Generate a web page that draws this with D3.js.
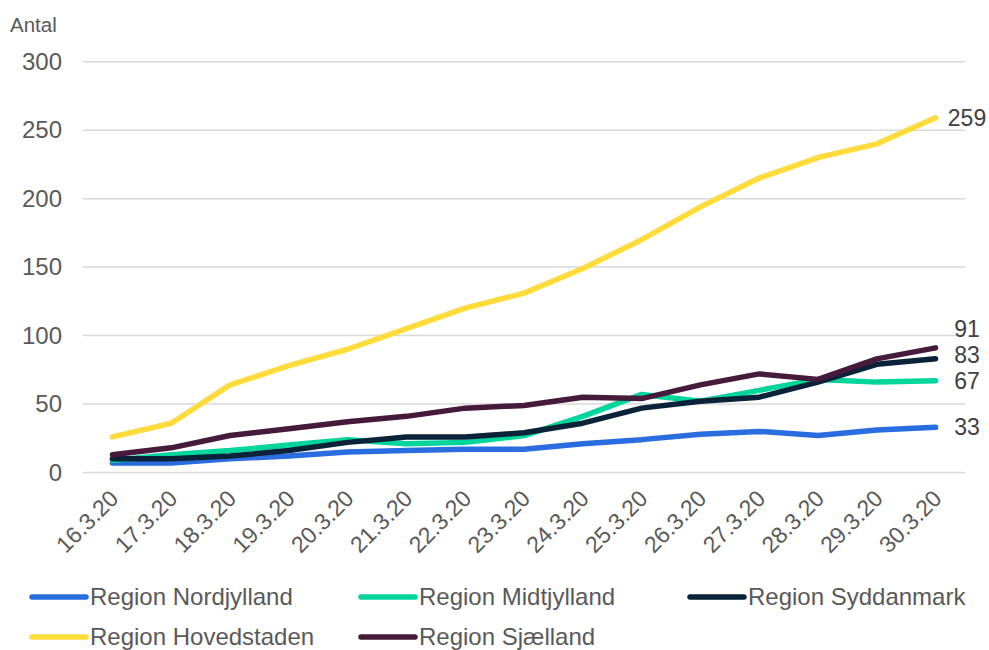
<!DOCTYPE html>
<html><head><meta charset="utf-8">
<script src="https://cdn.jsdelivr.net/npm/d3@7"></script>
<style>body{margin:0;background:#fff}svg{display:block;font-family:"Liberation Sans",Arial,sans-serif}</style>
</head><body><svg id="c" width="989" height="650"></svg>
<script>
const dates = ["16.3.20","17.3.20","18.3.20","19.3.20","20.3.20","21.3.20","22.3.20","23.3.20","24.3.20","25.3.20","26.3.20","27.3.20","28.3.20","29.3.20","30.3.20"];
const yTicks = [0,50,100,150,200,250,300];
const seriesNames = ["Region Nordjylland","Region Midtjylland","Region Syddanmark","Region Hovedstaden","Region Sjælland"];
const nordjylland = [7,7,10,12,15,16,17,17,21,24,28,30,27,31,33];
const midtjylland = [9,13,16,20,24,21,22,27,41,57,52,60,68,66,67];
const syddanmark  = [10,10,12,16,22,26,26,29,36,47,52,55,66,79,83];
const hovedstaden = [26,36,64,78,90,105,120,131,149,170,194,215,230,240,259];
const sjaelland   = [13,18,27,32,37,41,47,49,55,54,64,72,68,83,91];
const seriesValues = [nordjylland, midtjylland, syddanmark, hovedstaden, sjaelland];
const colors = ["#2a6ddf","#00d69c","#0b2338","#ffdb3b","#451a3b"];

const svg = d3.select("#c");
const x = d3.scalePoint().domain(dates).range([83,965]).padding(0.5);
const y = d3.scaleLinear().domain([0,300]).range([472.5,61.7]);
const txt = "#595959";
const ff = "Liberation Sans, Arial, sans-serif";

// gridlines
svg.append("g").selectAll("line").data(yTicks).join("line")
  .attr("x1",83).attr("x2",965).attr("y1",d=>y(d)).attr("y2",d=>y(d))
  .attr("stroke","#d9d9d9").attr("stroke-width",1.5);

// y axis labels
const ya = svg.append("g").attr("transform","translate(62,0)")
  .call(d3.axisLeft(y).tickValues(yTicks).tickSize(0).tickPadding(0));
ya.select(".domain").remove();
ya.selectAll("text").attr("fill",txt).style("font-size","24px").style("font-family",ff);

svg.append("text").attr("x",10).attr("y",32).attr("fill",txt).style("font-size","20.5px").text("Antal");

// x axis labels
const xa = svg.append("g").attr("transform","translate(0,478)")
  .call(d3.axisBottom(x).tickSize(0).tickPadding(0));
xa.select(".domain").remove();
xa.selectAll("text").attr("fill",txt).style("font-size","23px").style("font-family",ff)
  .attr("text-anchor","end").attr("dy",null).attr("y",0)
  .attr("transform","translate(7,22) rotate(-45)");

// lines
const line = d3.line().x((d,i)=>x(dates[i])).y(d=>y(d));
svg.append("g").selectAll("path").data(seriesValues).join("path")
  .attr("d",line).attr("fill","none").attr("stroke",(d,i)=>colors[i])
  .attr("stroke-width",5.5).attr("stroke-linecap","round").attr("stroke-linejoin","round");

// end labels with simple collision avoidance
const ends = seriesValues.map((s,i)=>({v:s[s.length-1], yy:y(s[s.length-1])}));
ends.sort((a,b)=>b.yy-a.yy);
for(let k=1;k<ends.length;k++){ if(ends[k-1].yy-ends[k].yy<26) ends[k].yy=ends[k-1].yy-26; }
svg.append("g").selectAll("text").data(ends).join("text")
  .attr("x",967).attr("y",d=>d.yy).attr("dy","0.35em").attr("text-anchor","middle")
  .attr("fill","#404040").style("font-size","23px").text(d=>d.v);

// legend
const legPos = [[30,597],[359,597],[688,597],[30,637],[359,637]];
const lg = svg.append("g").selectAll("g").data(seriesNames).join("g")
  .attr("transform",(d,i)=>`translate(${legPos[i][0]},${legPos[i][1]})`);
lg.append("line").attr("x1",2).attr("x2",56).attr("stroke",(d,i)=>colors[i])
  .attr("stroke-width",5.5).attr("stroke-linecap","round");
lg.append("text").attr("x",60).attr("dy","0.35em").attr("fill",txt).style("font-size","24px").text(d=>d);
</script></body></html>
